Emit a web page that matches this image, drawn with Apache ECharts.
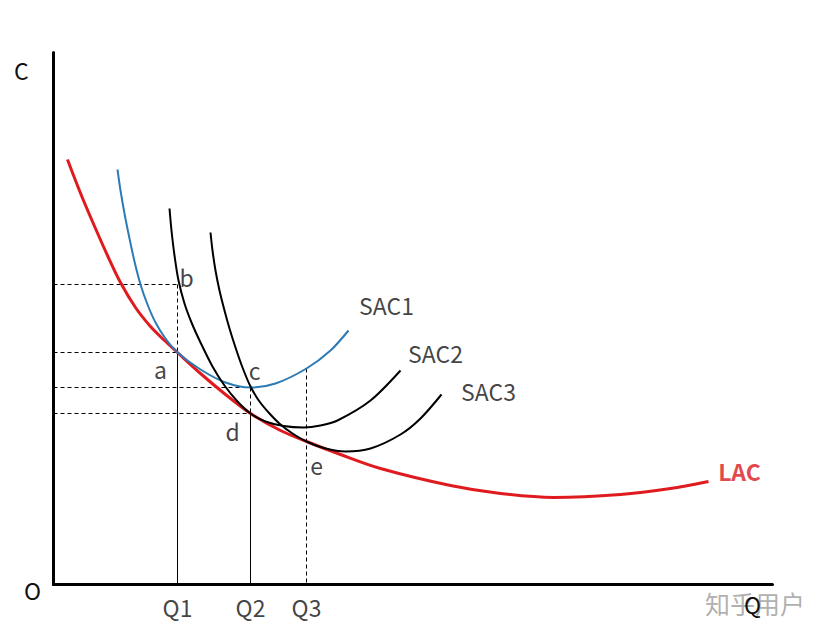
<!DOCTYPE html>
<html>
<head>
<meta charset="utf-8">
<script src="https://cdn.jsdelivr.net/npm/echarts@6/dist/echarts.min.js"></script>
<style>html,body{margin:0;padding:0;background:#fff;}#c{width:828px;height:636px;}</style>
</head>
<body>
<div id="c"></div>
<script>
// Curves (x = quantity, y = cost)
var lacData = [[14,425],[22,404],[30,384],[42,356],[54,329],[67,302],[82,277],[97,258],[111,244],[124,232],[147,211],[172,190],[197,171],[227,154],[253,143],[287,130],[327,116],[397,99],[447,91],[500,87],[567,90],[617,96],[655,103]];
var sac1Data = [[64,415],[67,394],[71,371],[76,346],[81,323],[87,300],[94,280],[102,262],[112,246],[124,232],[147,215],[172,202],[197,197],[222,201],[253,216],[277,234],[295,254]];
var sac2Data = [[116,376],[118,354],[121,329],[125,304],[131,281],[138,262],[147,242],[159,218],[171,199],[184,183],[197,171],[212,163],[230,158.5],[250,157],[267,159],[284,164],[317,184],[347,214]];
var sac3Data = [[157,352],[159,334],[162,314],[166,294],[171,274],[176,256],[182,237],[189,217],[197,198],[206,183],[216,171],[227,160],[239,151],[253,143],[272,136],[292,133],[317,136],[347,150],[367,166],[388,190]];

// Quantities and cost levels
var qNames = ['Q1','Q2','Q3'];
var qValues = [124,197,253];
var levelB = 300, levelA = 232, levelC = 197, levelD = 171, levelQ3 = 216;

// Point labels
var pointNames = ['a','b','c','d','e'];
var pointX = [124,124,197,197,253];
var pointY = [232,300,197,171,143];

var xMax = 719, yMax = 532;

var labelOffsets = {a:[-17,16], b:[9,-8], c:[4,-18], d:[-18,17], e:[10,23]};
var FONT = '"Noto Sans CJK SC","Noto Sans",sans-serif';
var FS = 23;
var TXT = '#111';

function seg(p1, p2, dashed) {
  return {type:'line', data:[p1,p2], symbol:'none', silent:true, z:1,
    lineStyle:{color:'#000', width:1, type: dashed ? [4,3] : 'solid'}};
}

var series = [
  seg([0,levelB],[qValues[0],levelB],true),
  seg([0,levelA],[qValues[0],levelA],true),
  seg([0,levelC],[qValues[1],levelC],true),
  seg([0,levelD],[qValues[1],levelD],true),
  seg([qValues[0],levelB],[qValues[0],levelA],true),
  seg([qValues[0],levelA],[qValues[0],0],false),
  seg([qValues[1],levelC],[qValues[1],levelD],true),
  seg([qValues[1],levelD],[qValues[1],0],false),
  seg([qValues[2],levelQ3],[qValues[2],0],true),
  {type:'line', name:'SAC1', data:sac1Data, smooth:0.3, symbol:'none', z:3, lineStyle:{color:'#2b7bb5', width:2}},
  {type:'line', name:'SAC2', data:sac2Data, smooth:0.3, symbol:'none', z:3, lineStyle:{color:'#000', width:2}},
  {type:'line', name:'SAC3', data:sac3Data, smooth:0.3, symbol:'none', z:3, lineStyle:{color:'#000', width:2}},
  {type:'line', name:'LAC', data:lacData, smooth:0.3, symbol:'none', z:2, lineStyle:{color:'#e01b1f', width:3}}
];

var ptItems = pointNames.map(function(n,i){
  return {value:[pointX[i],pointY[i]], label:{formatter:n, offset:labelOffsets[n]}};
});
var endItems = [
  {value:sac1Data[sac1Data.length-1], label:{formatter:'SAC1', offset:[38,-26]}},
  {value:sac2Data[sac2Data.length-1], label:{formatter:'SAC2', offset:[35,-18]}},
  {value:sac3Data[sac3Data.length-1], label:{formatter:'SAC3', offset:[47,-4]}},
  {value:lacData[lacData.length-1], label:{formatter:'LAC', offset:[31,-11], color:'#dc151b', fontWeight:'bold', fontSize:23}}
];
var qItems = qNames.map(function(n,i){
  return {value:[qValues[i],0], label:{formatter:n, offset:[0,22]}};
});
series.push({type:'scatter', data:ptItems.concat(endItems).concat(qItems), symbolSize:1, silent:true, z:5,
  itemStyle:{color:'rgba(0,0,0,0)'},
  label:{show:true, position:'inside', color:TXT, fontSize:FS, fontFamily:FONT}});

var chart = echarts.init(document.getElementById('c'), null, {renderer:'svg'});
chart.setOption({
  animation:false,
  backgroundColor:'#fff',
  grid:{left:53.5, top:52.5, width:719, height:532, containLabel:false},
  xAxis:{type:'value', min:0, max:xMax, axisLine:{show:true, onZero:false, lineStyle:{color:'#000', width:3}},
    axisTick:{show:false}, axisLabel:{show:false}, splitLine:{show:false}},
  yAxis:{type:'value', min:0, max:yMax, axisLine:{show:true, onZero:false, lineStyle:{color:'#000', width:3}},
    axisTick:{show:false}, axisLabel:{show:false}, splitLine:{show:false}},
  series:series,
  graphic:[
    {type:'text', left:14, top:58, style:{text:'C', fontSize:FS, fontFamily:FONT, fill:TXT}},
    {type:'text', left:24, top:578, style:{text:'O', fontSize:FS, fontFamily:FONT, fill:TXT}},
    {type:'text', left:705, top:590, z:10, style:{text:'知乎用户', fontSize:25, fontFamily:FONT, fill:'rgba(150,150,150,0.75)'}},
    {type:'text', left:744, top:592, z:11, style:{text:'Q', fontSize:FS, fontFamily:FONT, fill:TXT}}
  ]
});
</script>
</body>
</html>
